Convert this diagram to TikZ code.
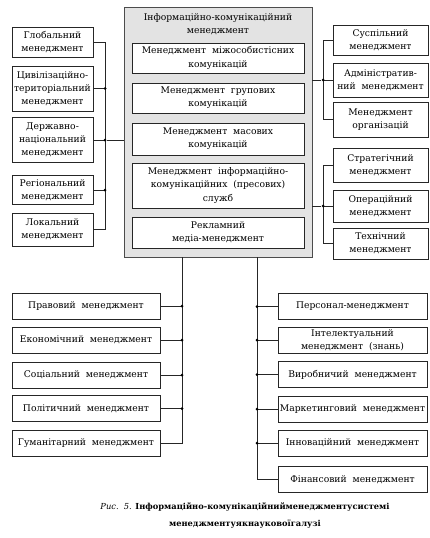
\documentclass[tikz,border=0pt]{standalone}
\usepackage{fontspec}
\setmainfont{DejaVu Serif}
\begin{document}
\begin{tikzpicture}[x=1pt,y=-1pt,
  box/.style={draw=black!85,line width=0.8pt,fill=white,inner sep=1pt,align=center,font=\fontsize{9.2}{13.2}\selectfont},
  conn/.style={draw=black!85,line width=0.7pt},
  jdot/.style={circle,fill=black,inner sep=0pt,minimum size=3pt}]
\useasboundingbox (0,0) rectangle (430,538);
% central gray box
\node[draw=black!70,line width=0.8pt,fill=black!11,minimum width=188pt,minimum height=250pt,inner sep=0pt] (G) at (218,132) {};
\node[align=center,font=\fontsize{9.2}{13.2}\selectfont] (GT) at (218,24.5) {Інформаційно-комунікаційний\\менеджмент};
\node[box,minimum width=172pt,minimum height=30pt] (I1) at (218,58) {Менеджмент\ \ міжособистісних\\комунікацій};
\node[box,minimum width=172pt,minimum height=30pt] (I2) at (218,98) {Менеджмент\ \ групових\\комунікацій};
\node[box,minimum width=172pt,minimum height=32pt] (I3) at (218,139) {Менеджмент\ \ масових\\комунікацій};
\node[box,minimum width=172pt,minimum height=45pt] (I4) at (218,185.5) {Менеджмент\ \ інформаційно-\\комунікаційних\ \ (пресових)\\служб};
\node[box,minimum width=172pt,minimum height=31pt] (I5) at (218,232.5) {Рекламний\\медіа-менеджмент};
% left column
\node[box,minimum width=81pt,minimum height=30pt] (L1) at (52.5,42) {Глобальний\\менеджмент};
\node[box,minimum width=81pt,minimum height=45pt] (L2) at (52.5,88.5) {Цивілізаційно-\\територіальний\\менеджмент};
\node[box,minimum width=81pt,minimum height=45pt] (L3) at (52.5,140) {Державно-\\національний\\менеджмент};
\node[box,minimum width=81pt,minimum height=29pt] (L4) at (52.5,190) {Регіональний\\менеджмент};
\node[box,minimum width=81pt,minimum height=33pt] (L5) at (52.5,229.5) {Локальний\\менеджмент};
\coordinate (LB1) at (105,42);
\coordinate (LB5) at (105,229.5);
\draw[conn] (L1.east) -- (LB1) -- (LB5) -- (L5.east);
\draw[conn] (L2.east) -- (L2.east -| LB1) node[jdot] (LD2) {};
\draw[conn] (L3.east) -- (L3.east -| LB1) node[jdot] (LD3) {};
\draw[conn] (L4.east) -- (L4.east -| LB1) node[jdot] (LD4) {};
\draw[conn] (LD3) -- (LD3 -| G.west);
% right column
\node[box,minimum width=95pt,minimum height=30pt] (R1) at (380.5,40) {Суспільний\\менеджмент};
\node[box,minimum width=95pt,minimum height=34pt] (R2) at (380.5,80) {Адміністратив-\\ний\ \ менеджмент};
\node[box,minimum width=95pt,minimum height=35pt] (R3) at (380.5,119.5) {Менеджмент\\організацій};
\node[box,minimum width=95pt,minimum height=34pt] (R4) at (380.5,165) {Стратегічний\\менеджмент};
\node[box,minimum width=95pt,minimum height=32pt] (R5) at (380.5,206) {Операційний\\менеджмент};
\node[box,minimum width=95pt,minimum height=31pt] (R6) at (380.5,243.5) {Технічний\\менеджмент};
\coordinate (RB1) at (323,40);
\coordinate (RB3) at (323,119.5);
\coordinate (RB4) at (323,165);
\coordinate (RB6) at (323,243.5);
\draw[conn] (R1.west) -- (RB1) -- (RB3) -- (R3.west);
\draw[conn] (R4.west) -- (RB4) -- (RB6) -- (R6.west);
\draw[conn] (R2.west) -- (R2.west -| RB1) node[jdot] (RD2) {};
\draw[conn] (R5.west) -- (R5.west -| RB1) node[jdot] (RD5) {};
\draw[conn] (RD2) -- (RD2 -| G.east);
\draw[conn] (RD5) -- (RD5 -| G.east);
% lower left
\node[box,minimum width=148pt,minimum height=26pt] (B1) at (86,306) {Правовий\ \ менеджмент};
\node[box,minimum width=148pt,minimum height=26pt] (B2) at (86,340) {Економічний\ \ менеджмент};
\node[box,minimum width=148pt,minimum height=26pt] (B3) at (86,375) {Соціальний\ \ менеджмент};
\node[box,minimum width=148pt,minimum height=26pt] (B4) at (86,408.5) {Політичний\ \ менеджмент};
\node[box,minimum width=148pt,minimum height=26pt] (B5) at (86,443) {Гуманітарний\ \ менеджмент};
\coordinate (BT) at (182,257);
\coordinate (BB) at (182,443);
\draw[conn] (BT) -- (BB) -- (B5.east);
\foreach \n in {B1,B2,B3,B4}{\draw[conn] (\n.east) -- (\n.east -| BT) node[jdot] {};}
% lower right
\node[box,minimum width=149pt,minimum height=26pt] (C1) at (352.5,306.5) {Персонал-менеджмент};
\node[box,minimum width=149pt,minimum height=26pt] (C2) at (352.5,340) {Інтелектуальний\\менеджмент\ \ (знань)};
\node[box,minimum width=149pt,minimum height=26pt] (C3) at (352.5,374.5) {Виробничий\ \ менеджмент};
\node[box,minimum width=149pt,minimum height=26pt] (C4) at (352.5,409) {Маркетинговий\ \ менеджмент};
\node[box,minimum width=149pt,minimum height=26pt] (C5) at (352.5,443) {Інноваційний\ \ менеджмент};
\node[box,minimum width=149pt,minimum height=26pt] (C6) at (352.5,479.5) {Фінансовий\ \ менеджмент};
\coordinate (CT) at (257,257);
\coordinate (CB) at (257,479.5);
\draw[conn] (CT) -- (CB) -- (C6.west);
\foreach \n in {C1,C2,C3,C4,C5}{\draw[conn] (\n.west) -- (\n.west -| CT) node[jdot] {};}
% caption
\node[align=center,font=\fontsize{8.3}{16.5}\selectfont] (CAP) at (245,515.5) {\textit{Рис.\ \ 5.} \textbf{Інформаційно-комунікаційнийменеджментусистемі}\\\textbf{менеджментуякнауковоїгалузі}};
\end{tikzpicture}
\end{document}
